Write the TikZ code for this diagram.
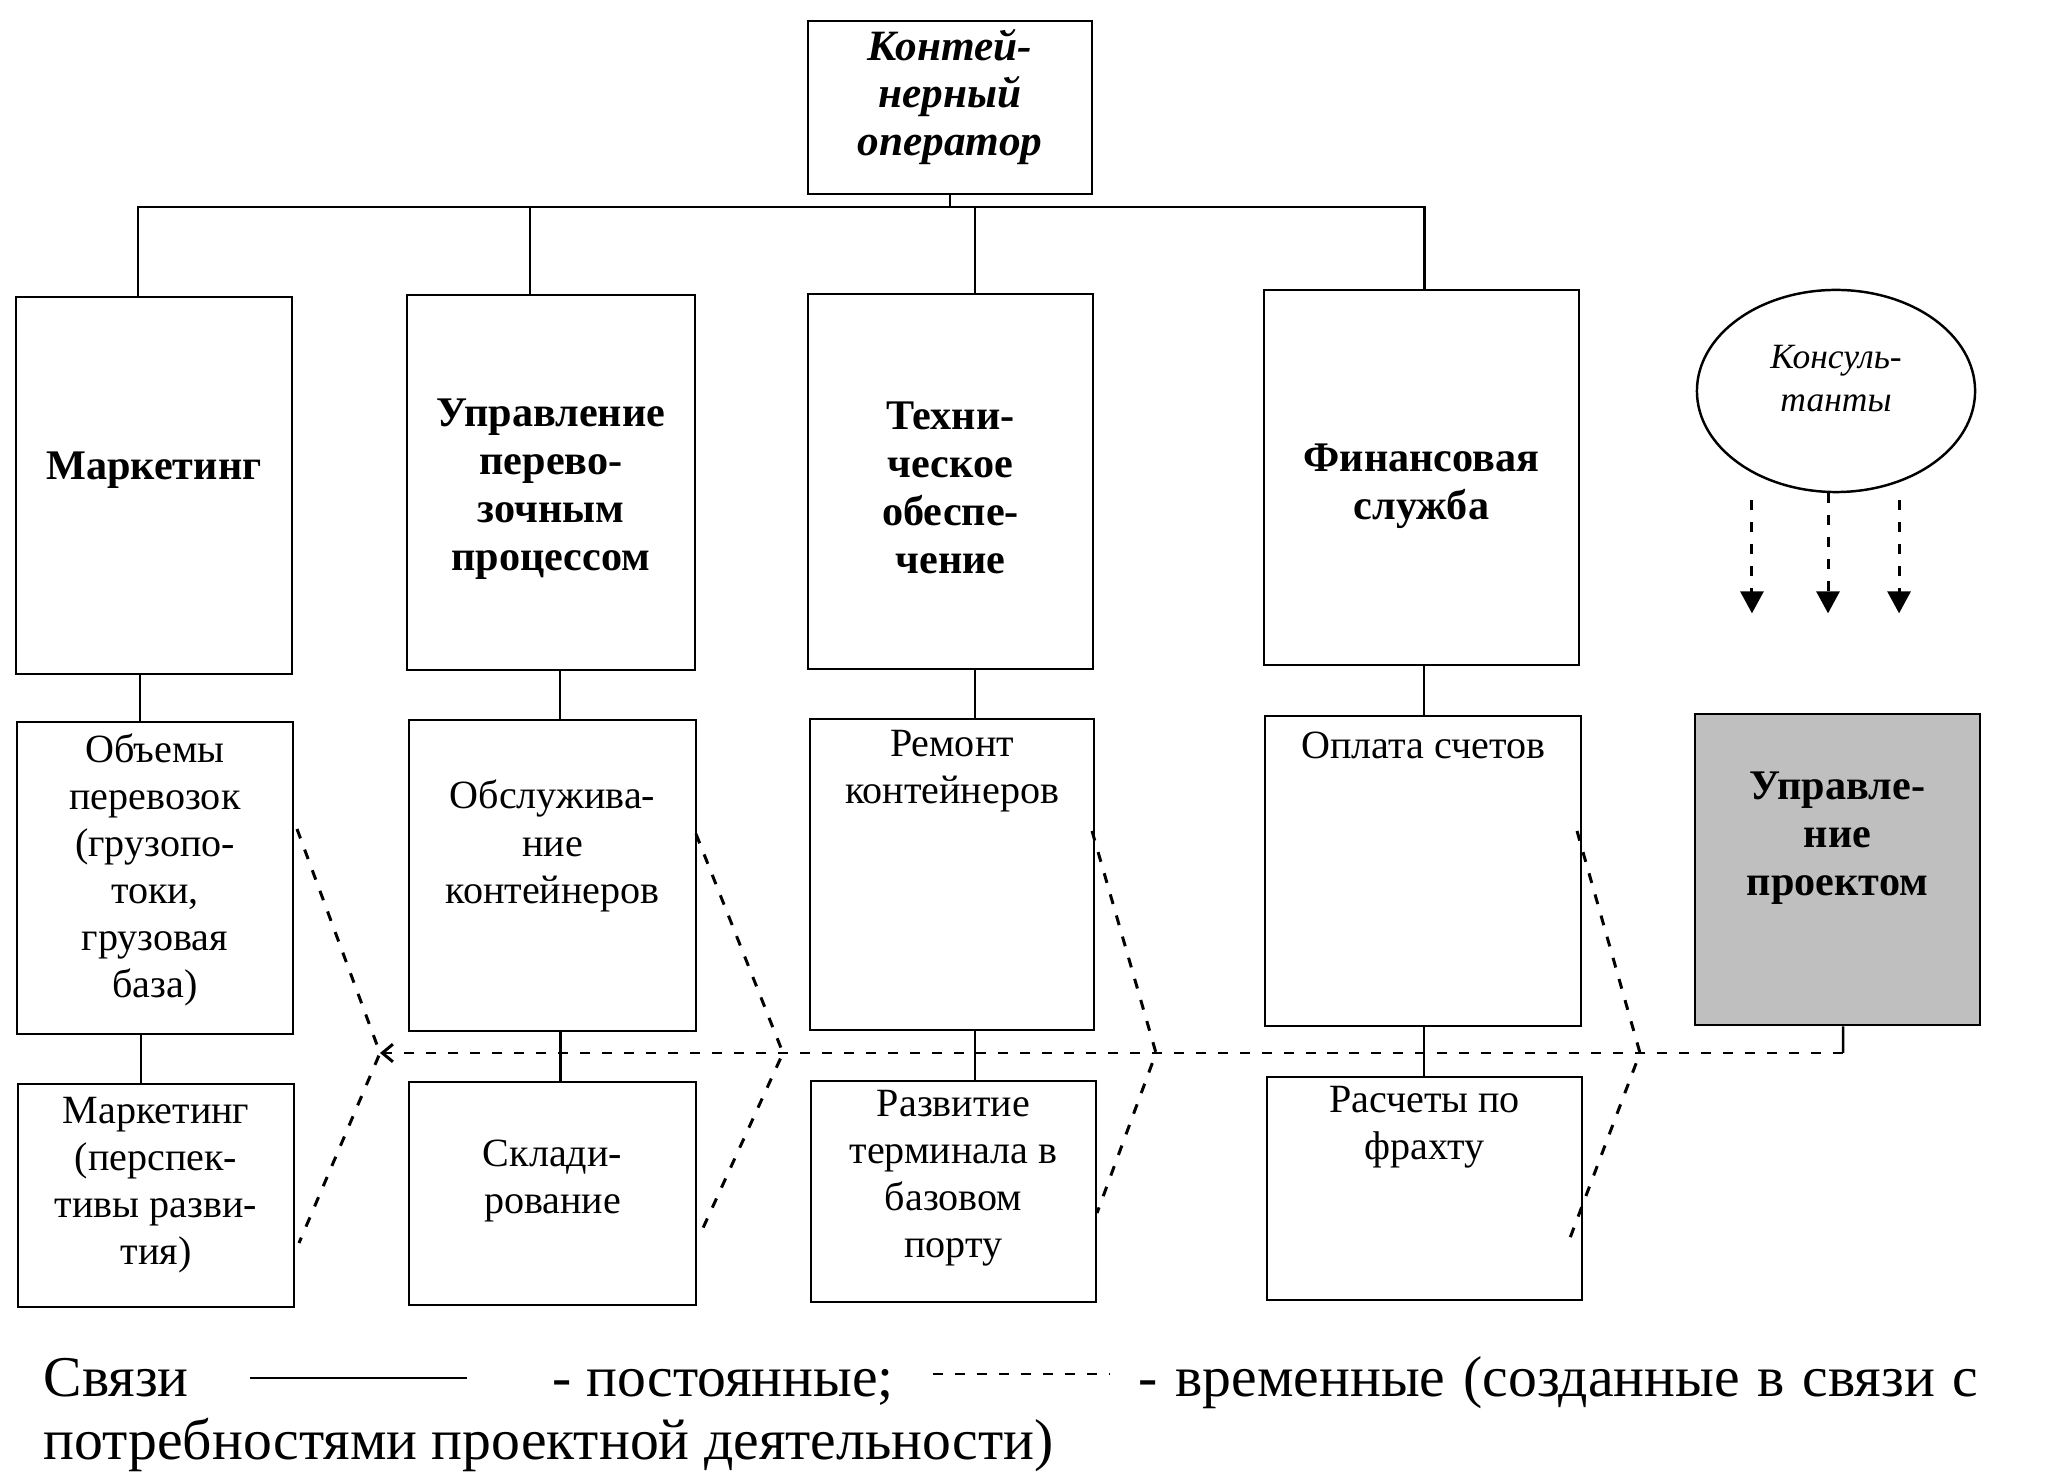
\documentclass[tikz,border=0pt]{standalone}
\usepackage{fontspec}
\setmainfont{Liberation Serif}
\usetikzlibrary{arrows.meta,shapes.geometric,calc}
\begin{document}
\begin{tikzpicture}[x=0.01cm,y=-0.01cm,
  box/.style={draw,line width=0.7pt,inner sep=0pt},
  rt/.style={align=center,inner sep=0pt,font=\fontsize{11.4}{13.4}\selectfont},
  bt/.style={align=center,inner sep=0pt,font=\bfseries\fontsize{12}{13.7}\selectfont},
  it/.style={align=center,inner sep=0pt,font=\itshape\fontsize{10.1}{12.2}\selectfont},
  bit/.style={align=center,inner sep=0pt,font=\bfseries\itshape\fontsize{12.3}{13.4}\selectfont},
  lg/.style={inner sep=0pt,font=\fontsize{16.4}{17.9}\selectfont},
  conn/.style={line width=0.7pt},
  tmp/.style={line width=0.85pt,dash pattern=on 2.85pt off 3.4pt},
  darr/.style={tmp,-{Triangle[width=0.23cm,length=0.22cm]}},
]
\useasboundingbox (0,0) rectangle (2061,1477);

% top box
\node[box,minimum width=2.84cm,minimum height=1.73cm] (top) at (950,107.5) {};
\node[bit] (topt) at (950,97) {Контей-\\нерный\\оператор};

% level 2
\node[box,minimum width=2.76cm,minimum height=3.77cm] (m2) at (154,485.5) {};
\node[bt] (m2t) at (154,470) {Маркетинг};
\node[box,minimum width=2.88cm,minimum height=3.75cm] (u2) at (551,482.5) {};
\node[bt] (u2t) at (551,489) {Управление\\перево-\\зочным\\процессом};
\node[box,minimum width=2.85cm,minimum height=3.75cm] (t2) at (950.5,481.5) {};
\node[bt] (t2t) at (950.5,488) {Техни-\\ческое\\обеспе-\\чение};
\node[box,minimum width=3.15cm,minimum height=3.75cm] (f2) at (1421.5,477.5) {};
\node[bt] (f2t) at (1421.5,486) {Финансовая\\служба};

% consultants
\node[draw,line width=0.7pt,ellipse,minimum width=2.78cm,minimum height=2.02cm,inner sep=0pt] (cons) at (1836,391) {};
\node[it] (const) at (1836,379) {Консуль-\\танты};

% level 3
\node[box,minimum width=2.76cm,minimum height=3.12cm] (m3) at (155,878) {};
\node[rt] (m3t) at (155,870) {Объемы\\перевозок\\(грузопо-\\токи,\\грузовая\\база)};
\node[box,minimum width=2.87cm,minimum height=3.11cm] (u3) at (552.5,875.5) {};
\node[rt] (u3t) at (552.5,846) {Обслужива-\\ние\\контейнеров};
\node[box,minimum width=2.84cm,minimum height=3.11cm] (t3) at (952,874.5) {};
\node[rt] (t3t) at (952,771) {Ремонт\\контейнеров};
\node[box,minimum width=3.16cm,minimum height=3.10cm] (f3) at (1423,871) {};
\node[rt] (f3t) at (1423,745) {Оплата счетов};
\node[box,fill=black!25,minimum width=2.85cm,minimum height=3.11cm] (p3) at (1837.5,869.5) {};
\node[bt] (p3t) at (1837.5,838) {Управле-\\ние\\проектом};

% level 4
\node[box,minimum width=2.76cm,minimum height=2.23cm] (m4) at (156,1195.5) {};
\node[rt] (m4t) at (156,1185) {Маркетинг\\(перспек-\\тивы разви-\\тия)};
\node[box,minimum width=2.87cm,minimum height=2.23cm] (u4) at (552.5,1193.5) {};
\node[rt] (u4t) at (552.5,1181) {Склади-\\рование};
\node[box,minimum width=2.85cm,minimum height=2.21cm] (t4) at (953.5,1191.5) {};
\node[rt] (t4t) at (953.5,1178) {Развитие\\терминала в\\базовом\\порту};
\node[box,minimum width=3.15cm,minimum height=2.23cm] (f4) at (1424.5,1188.5) {};
\node[rt] (f4t) at (1424.5,1127) {Расчеты по\\фрахту};

% permanent links: top bar
\coordinate (bar) at (0,207);
\draw[conn] (top.south) -- (top.south |- bar);
\draw[conn] ([xshift=-0.16cm]m2.north) |- ([xshift=0.03cm]f2.north |- bar) -- ([xshift=0.03cm]f2.north);
\draw[conn] ([xshift=-0.21cm]u2.north) -- ([xshift=-0.21cm]u2.north |- bar);
\draw[conn] ([xshift=0.245cm]t2.north) -- ([xshift=0.245cm]t2.north |- bar);

% permanent links: level 2 -> 3 -> 4
\draw[conn] ([xshift=-0.14cm]m2.south) -- ([xshift=-0.14cm]m2.south |- m3.north);
\draw[conn] ([xshift=-0.14cm]m3.south) -- ([xshift=-0.14cm]m3.south |- m4.north);
\draw[conn] ([xshift=0.09cm]u2.south) -- ([xshift=0.09cm]u2.south |- u3.north);
\draw[conn] ([xshift=0.08cm]u3.south) -- ([xshift=0.08cm]u3.south |- u4.north);
\draw[conn] ([xshift=0.245cm]t2.south) -- ([xshift=0.245cm]t2.south |- t3.north);
\draw[conn] ([xshift=0.23cm]t3.south) -- ([xshift=0.23cm]t3.south |- t4.north);
\draw[conn] ([xshift=0.025cm]f2.south) -- ([xshift=0.025cm]f2.south |- f3.north);
\draw[conn] ([xshift=0.01cm]f3.south) -- ([xshift=0.01cm]f3.south |- f4.north);

% temporary links
\coordinate (v1) at (380,1053);
\coordinate (v2) at (783,1053);
\coordinate (v3) at (1156,1053);
\coordinate (v4) at (1640,1053);
\coordinate (pj) at (1843,1053);
\draw[conn] ([xshift=0.055cm]p3.south) -- (pj);
\draw[tmp,-{Straight Barb[length=3pt,width=5pt]}] (pj) -- (v1);

\coordinate (a1) at (297,829);  \coordinate (b1) at (299,1243);
\coordinate (a2) at (696,834);  \coordinate (b2) at (703,1228);
\coordinate (a3) at (1092,831); \coordinate (b3) at (1097,1213);
\coordinate (a4) at (1577,831); \coordinate (b4) at (1570,1238);
\draw[tmp] (a1) -- (v1) -- (b1);
\draw[tmp] (a2) -- (v2) -- (b2);
\draw[tmp] (a3) -- (v3) -- (b3);
\draw[tmp] (a4) -- (v4) -- (b4);

% consultants arrows
\draw[darr] ([xshift=-0.84cm,yshift=-0.07cm]cons.south) -- ([xshift=-0.84cm,yshift=-1.20cm]cons.south);
\draw[darr] ([xshift=-0.08cm]cons.south) -- ([xshift=-0.08cm,yshift=-1.20cm]cons.south);
\draw[darr] ([xshift=0.63cm,yshift=-0.07cm]cons.south) -- ([xshift=0.63cm,yshift=-1.20cm]cons.south);

% legend
\node[lg,anchor=base west] (lg1) at (43,1396) {Связи};
\coordinate (ls1) at (250,1378); \coordinate (ls2) at (467,1378);
\draw[conn,line width=0.8pt] (ls1) -- (ls2);
\node[lg,anchor=base west] (lg2) at (552,1396) {- постоянные;};
\coordinate (ld1) at (933,1374); \coordinate (ld2) at (1109,1374);
\draw[tmp] (ld1) -- (ld2);
\node[lg,anchor=base west] (lg3) at (1138,1396) {\makebox[8.39cm][s]{- временные (созданные в связи с}};
\node[lg,anchor=base west] (lg4) at (43,1459) {потребностями проектной деятельности)};
\end{tikzpicture}
\end{document}
